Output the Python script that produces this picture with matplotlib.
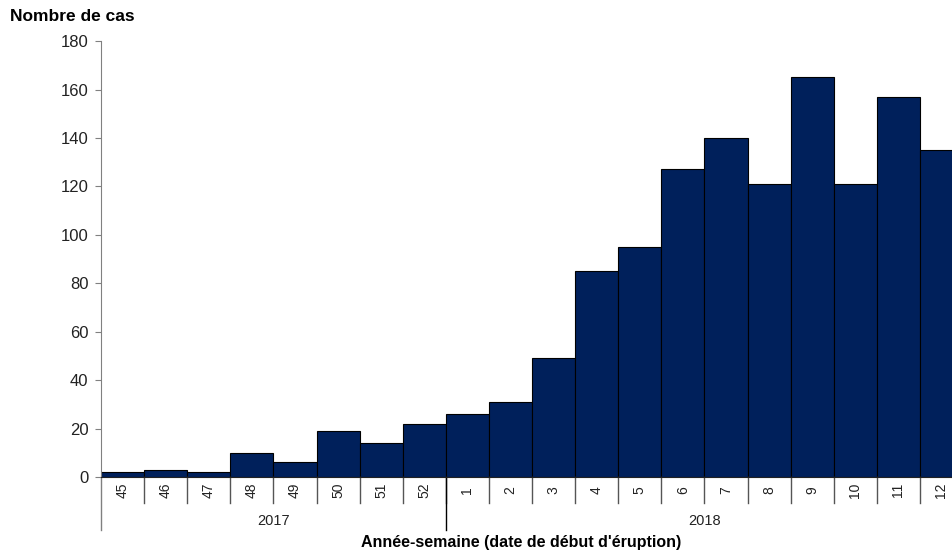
import matplotlib.pyplot as plt
from matplotlib import transforms

plt.rcParams["font.family"] = ["Liberation Sans", "DejaVu Sans"]

# weekly case counts
weeks = ["45", "46", "47", "48", "49", "50", "51", "52",
         "1", "2", "3", "4", "5", "6", "7", "8", "9", "10", "11", "12"]
cases = [2, 3, 2, 10, 6, 19, 14, 22,
         26, 31, 49, 85, 95, 127, 140, 121, 165, 121, 157, 135]
years = ["2017", "2018"]
weeks_per_year = [8, 12]

fig = plt.figure(figsize=(9.52, 5.55), dpi=100)
ax = fig.add_axes([0.1061, 0.1405, 0.9055, 0.7855])

x = list(range(len(weeks)))
ax.bar(x, cases, width=1.0, color="#00205b", edgecolor="black", linewidth=0.8)

ax.set_xlim(-0.5, len(weeks) - 0.5)
ax.set_ylim(0, 180)
ax.set_yticks(range(0, 181, 20))
ax.tick_params(axis="y", labelsize=12, length=4, color="#808080", pad=5,
               labelcolor="#222222")
ax.set_xticks([])

for side in ["top", "right"]:
    ax.spines[side].set_visible(False)
ax.spines["left"].set_color("#808080")
ax.spines["bottom"].set_color("#222222")

trans = transforms.blended_transform_factory(ax.transData, ax.transAxes)

# week labels and short separators
for i, w in enumerate(weeks):
    ax.text(i, -0.03, w, transform=trans, rotation=90, ha="center", va="center",
            fontsize=10, color="#222222")
for i in range(1, len(weeks)):
    ax.plot([i - 0.5, i - 0.5], [0, -0.06], transform=trans, color="#555555",
            linewidth=1, clip_on=False)

# year groups
start = 0
bounds = [start]
for n in weeks_per_year:
    start += n
    bounds.append(start)
for b in bounds[:-1]:
    col = "#808080" if b == 0 else "black"
    ax.plot([b - 0.5, b - 0.5], [0, -0.122], transform=trans, color=col,
            linewidth=1, clip_on=False)
for k, yr in enumerate(years):
    mid = (bounds[k] + bounds[k + 1] - 1) / 2
    ax.text(mid, -0.1, yr, transform=trans, ha="center", va="center",
            fontsize=10.5, color="#222222")

fig.text(0.547, 0.022, "Année-semaine (date de début d'éruption)", ha="center",
         va="center", fontsize=11.5, fontweight="bold")
fig.text(0.011, 0.971, "Nombre de cas", ha="left", va="center", fontsize=12.5,
         fontweight="bold")

fig.savefig("out.png", dpi=100)
